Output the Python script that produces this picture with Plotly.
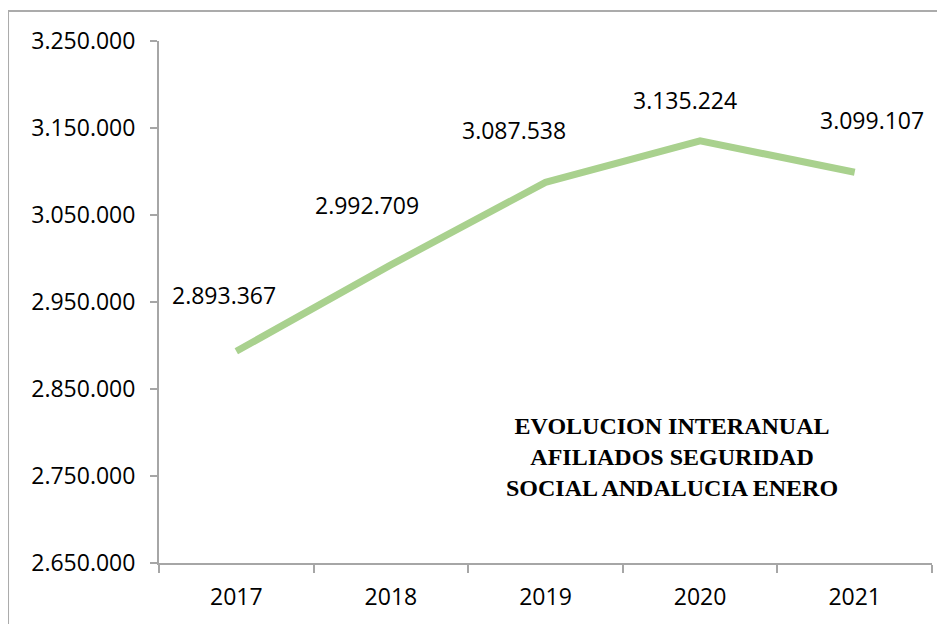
import plotly.graph_objects as go

years = ["2017", "2018", "2019", "2020", "2021"]
afiliados = [2893367, 2992709, 3087538, 3135224, 3099107]
y_ticks = [2650000, 2750000, 2850000, 2950000, 3050000, 3150000, 3250000]
title_lines = ["EVOLUCION INTERANUAL", "AFILIADOS SEGURIDAD", "SOCIAL ANDALUCIA ENERO"]

label_shifts = [(-12, 56), (-24, 60), (-32, 52), (-15, 41), (17, 52)]

def fmt(v):
    return f"{v:,}".replace(",", ".")

FONT = "Open Sans"

fig = go.Figure()
fig.add_trace(go.Scatter(
    x=years, y=afiliados, mode="lines",
    line=dict(color="#A9D18E", width=7),
    hoverinfo="skip", showlegend=False,
))

for i, (v, (dx, dy)) in enumerate(zip(afiliados, label_shifts)):
    fig.add_annotation(x=i, y=v, xref="x", yref="y", text=fmt(v), showarrow=False,
                       xshift=dx, yshift=dy,
                       font=dict(family=FONT, size=23, color="black"))

fig.add_annotation(xref="paper", yref="paper", x=0.664, y=0.203,
                   text="<br>".join(title_lines), showarrow=False,
                   font=dict(family="Liberation Serif", size=24, color="black", weight="bold"),
                   align="center", xanchor="center", yanchor="middle")

fig.add_shape(type="rect", xref="paper", yref="paper",
              x0=-0.1953, y0=-0.3, x1=1.2, y1=1.0575,
              line=dict(color="#ABABAB", width=2), layer="below")

fig.update_layout(
    width=937, height=616,
    margin=dict(l=151, r=13, t=33, b=61),
    paper_bgcolor="white", plot_bgcolor="white",
    separators=",.",
    showlegend=False,
    font=dict(family=FONT, size=23, color="black"),
)
fig.update_xaxes(
    type="category", range=[-0.5, 4.5],
    showgrid=False, zeroline=False,
    showline=True, linecolor="#A6A6A6", linewidth=2,
    ticks="outside", tickson="boundaries", ticklen=8, tickcolor="#A6A6A6", tickwidth=2,
    ticklabelstandoff=12,
    tickfont=dict(family=FONT, size=23, color="black"),
)
fig.update_yaxes(
    range=[2650000, 3250000], tickvals=y_ticks, tickformat=",d",
    showgrid=False, zeroline=False,
    showline=True, linecolor="#A6A6A6", linewidth=2,
    ticks="outside", ticklen=7, tickcolor="#A6A6A6", tickwidth=2,
    ticklabelstandoff=10,
    tickfont=dict(family=FONT, size=23, color="black"),
)

fig.write_html("out.html")
